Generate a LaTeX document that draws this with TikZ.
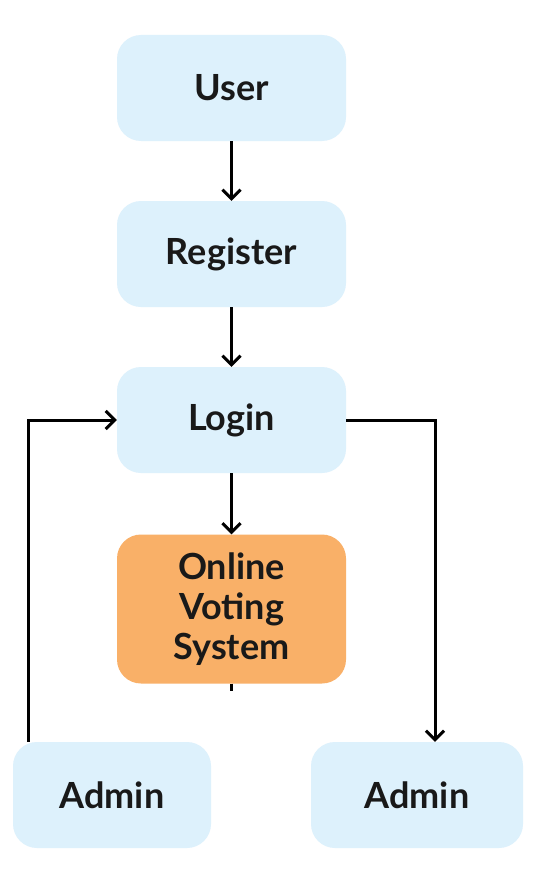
\documentclass[tikz,border=0pt]{standalone}
\usepackage{fontspec}
\setmainfont{Lato}
\usetikzlibrary{arrows.meta}
\definecolor{boxblue}{HTML}{DDF1FC}
\definecolor{boxorange}{HTML}{F9B068}
\tikzset{
  box/.style={fill=boxblue, rounded corners=24pt, minimum width=229pt, minimum height=106pt,
    font=\fontsize{36}{40}\selectfont\bfseries, text=black!90, align=center},
  line/.style={line width=3pt, -{Straight Barb[length=9pt,width=18pt,line width=3pt]}}
}
\begin{document}
\begin{tikzpicture}[x=1pt,y=-1pt]
    \useasboundingbox[fill=white] (0,0) rectangle (544,872);
    \node[box] (user) at (231.5,88) {User};
    \node[box] (reg) at (231.5,254) {Register};
    \node[box] (login) at (231.5,420) {Login};
    \node[box, fill=boxorange, minimum height=149pt] (ovs) at (231.5,609) {Online\\Voting\\System};
    \node[box, minimum width=198pt] (admina) at (112,795) {Admin};
    \node[box, minimum width=212pt] (adminb) at (417,795) {Admin};
    \coordinate (tick) at (231.5,691);
    \draw[line] (user) -- (reg);
    \draw[line] (reg) -- (login);
    \draw[line] (login) -- (ovs);
    \draw[line width=3pt] (ovs) -- (tick);
    \draw[line] (admina.north -| 28,0) |- (login.west);
    \draw[line] (login.east) -| (adminb.north -| 435,0);
\end{tikzpicture}
\end{document}
